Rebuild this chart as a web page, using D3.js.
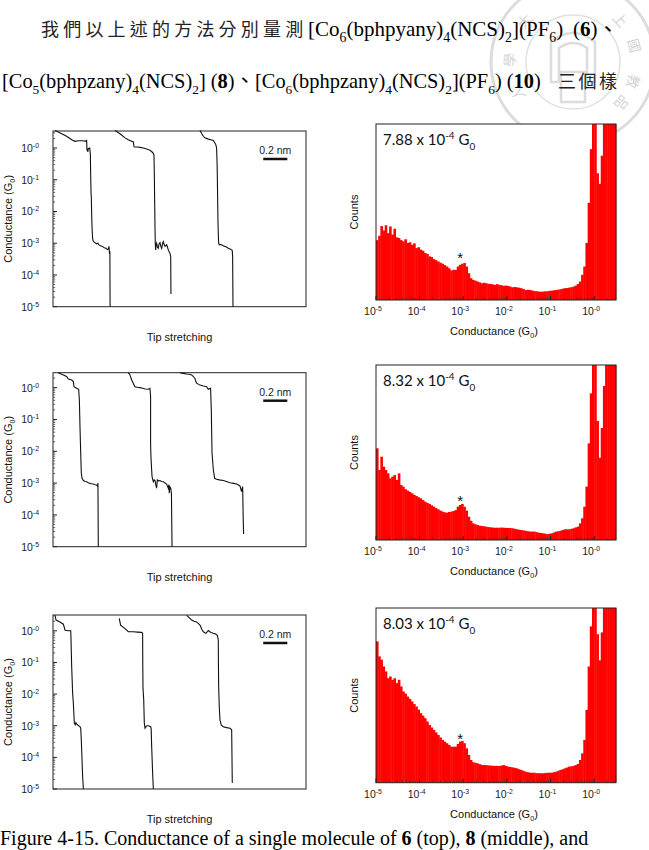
<!DOCTYPE html>
<html><head><meta charset="utf-8">
<script src="https://cdn.jsdelivr.net/npm/d3@7/dist/d3.min.js"></script>
<style>body{margin:0;background:#fff}svg{display:block}</style>
</head><body>
<svg id="c" width="649" height="850"></svg>
<script>
// ---------------- DATA ----------------
const traceTickExponents = [0, -1, -2, -3, -4, -5];
const histTickExponents = [-5, -4, -3, -2, -1, 0];
const traceXDomain = [0, 2.1];           // tip stretching, nm
const scaleBarNm = [1.745, 1.945];        // 0.2 nm
const peakValues = ["7.88", "8.32", "8.03"];
const peakExponent = "-4";
const histBinStart = -5.0, histBinWidth = 0.05; // log10(G/G0)

const histCounts6 = [
 340,365,420,395,425,380,418,372,405,356,
 352,340,333,345,324,328,314,322,295,300,
 286,280,267,262,248,244,232,226,219,212,
 206,198,190,180,168,172,171,190,200,206,
 210,190,152,124,114,110,105,100,95,98,
 95,92,91,88,86,90,86,84,80,82,
 80,76,72,74,72,70,67,62,57,58,
 57,54,51,50,48,47,48,49,50,52,
 53,55,57,59,61,64,67,68,70,73,
 76,82,91,105,143,190,324,552,857,1200,
 1200,720,660,820,1200,1200,1200,1200,1200,1200];
const histCounts8 = [
 524,400,476,419,400,381,352,362,371,343,
 381,314,305,290,282,275,267,258,251,244,
 238,228,219,212,206,198,190,182,175,168,
 162,158,156,160,162,166,171,190,200,206,
 190,168,133,110,95,90,86,82,80,78,
 76,74,72,71,70,70,70,71,70,69,
 69,68,67,64,61,59,57,55,53,50,
 48,48,48,45,42,40,38,36,34,36,
 38,43,48,50,53,57,61,61,61,64,
 67,72,76,95,124,190,305,552,838,1200,
 1200,680,470,640,880,1200,1200,1200,1200,1200];
const histCounts10 = [
 809,723,704,665,637,598,608,589,598,570,
 589,551,522,510,493,480,465,450,436,418,
 398,384,369,350,331,316,302,288,273,259,
 245,235,226,216,206,206,206,222,235,239,
 226,197,159,130,117,114,111,106,101,101,
 101,99,98,97,96,96,96,98,101,96,
 92,90,88,85,82,77,73,68,63,60,
 57,57,57,55,54,54,54,55,57,57,
 57,60,63,68,73,77,82,87,92,94,
 96,101,107,130,168,245,417,665,895,1200,
 1200,850,700,860,1200,1200,1200,1200,1200,1200];
const peakMarkers = [[-3.07, 262], [-3.07, 245], [-3.07, 275]]; // [log10 G, counts]

// traces: [nm, log10(G/G0)]
const traces6 = [
 [[0.017,0.55],[0.072,0.45],[0.113,0.37],[0.155,0.26],[0.183,0.21],[0.21,0.23],[0.246,0.23],[0.274,0.21],[0.279,0.25],[0.282,-0.08],[0.285,-0.02],[0.289,-0.12],[0.293,-0.02],[0.305,0.0],[0.31,-0.2],[0.313,-0.9],[0.316,-1.45],[0.318,-1.52],[0.321,-2.1],[0.325,-2.6],[0.329,-2.85],[0.334,-2.93],[0.34,-2.96],[0.35,-2.99],[0.36,-3.02],[0.372,-3.0],[0.383,-3.06],[0.395,-3.08],[0.41,-3.1],[0.425,-3.14],[0.44,-3.16],[0.452,-3.2],[0.46,-3.18],[0.465,-3.1],[0.468,-3.28],[0.472,-3.25],[0.474,-5.0]],
 [[0.515,0.55],[0.556,0.45],[0.598,0.32],[0.625,0.26],[0.667,0.19],[0.672,0.05],[0.674,0.03],[0.70,0.03],[0.722,0.02],[0.75,0.0],[0.777,-0.03],[0.805,-0.07],[0.827,-0.14],[0.838,-0.21],[0.841,-0.8],[0.844,-1.74],[0.847,-2.6],[0.849,-3.0],[0.852,-3.21],[0.856,-3.05],[0.86,-3.0],[0.867,-3.12],[0.874,-3.16],[0.88,-3.02],[0.888,-2.98],[0.895,-3.1],[0.902,-3.16],[0.91,-3.0],[0.916,-2.95],[0.923,-3.05],[0.93,-3.1],[0.943,-3.05],[0.95,-3.12],[0.957,-3.21],[0.965,-3.28],[0.971,-3.32],[0.977,-3.42],[0.979,-4.6]],
 [[1.22,0.55],[1.235,0.45],[1.248,0.37],[1.261,0.32],[1.289,0.28],[1.31,0.26],[1.331,0.24],[1.344,0.16],[1.352,0.1],[1.358,0.0],[1.362,-0.5],[1.364,-0.9],[1.367,-1.7],[1.369,-2.26],[1.372,-2.7],[1.375,-3.0],[1.38,-3.05],[1.39,-3.04],[1.40,-3.05],[1.413,-3.08],[1.427,-3.1],[1.44,-3.12],[1.455,-3.16],[1.47,-3.18],[1.483,-3.21],[1.488,-3.23],[1.491,-3.42],[1.494,-5.0]]
];
const traces8 = [
 [[0.044,0.47],[0.086,0.40],[0.113,0.35],[0.127,0.27],[0.155,0.24],[0.169,0.19],[0.174,0.03],[0.196,-0.02],[0.213,-0.05],[0.219,-0.39],[0.224,-1.23],[0.23,-2.06],[0.235,-2.69],[0.241,-2.85],[0.252,-2.92],[0.265,-2.95],[0.279,-2.96],[0.293,-2.99],[0.307,-3.01],[0.32,-3.02],[0.335,-3.03],[0.35,-3.05],[0.362,-3.06],[0.371,-3.11],[0.373,-3.0],[0.376,-5.0]],
 [[0.625,0.47],[0.639,0.40],[0.653,0.24],[0.68,0.03],[0.70,0.01],[0.722,0.0],[0.745,-0.02],[0.764,-0.04],[0.791,-0.05],[0.805,-0.02],[0.81,-0.28],[0.81,-1.75],[0.813,-2.17],[0.822,-2.8],[0.833,-2.96],[0.84,-2.9],[0.847,-2.92],[0.853,-3.05],[0.86,-3.16],[0.866,-2.9],[0.875,-2.93],[0.888,-2.92],[0.9,-2.95],[0.916,-2.96],[0.93,-3.0],[0.943,-3.03],[0.957,-3.16],[0.962,-3.05],[0.965,-3.32],[0.97,-3.12],[0.977,-3.16],[0.983,-3.32],[0.988,-5.0]],
 [[1.054,0.47],[1.08,0.45],[1.109,0.43],[1.13,0.42],[1.151,0.40],[1.165,0.35],[1.178,0.29],[1.185,0.2],[1.192,0.14],[1.22,0.08],[1.248,0.05],[1.275,0.03],[1.289,-0.05],[1.30,-0.03],[1.308,-0.02],[1.314,-0.7],[1.32,-2.06],[1.331,-2.59],[1.342,-2.85],[1.358,-2.88],[1.38,-2.9],[1.413,-2.92],[1.44,-2.95],[1.469,-2.99],[1.50,-3.01],[1.524,-3.03],[1.552,-3.09],[1.565,-3.27],[1.574,-3.11],[1.579,-4.16],[1.582,-4.6]]
];
const traces10 = [
 [[0.017,0.49],[0.025,0.34],[0.058,0.28],[0.086,0.21],[0.10,0.02],[0.127,0.0],[0.147,0.0],[0.149,-0.19],[0.155,-1.13],[0.163,-1.97],[0.169,-2.29],[0.177,-2.92],[0.185,-2.97],[0.19,-2.9],[0.196,-2.94],[0.213,-3.0],[0.224,-3.03],[0.23,-3.08],[0.235,-3.45],[0.241,-4.08],[0.246,-4.6],[0.252,-5.0]],
 [[0.55,0.39],[0.561,0.18],[0.598,0.07],[0.625,-0.03],[0.667,-0.03],[0.70,-0.04],[0.736,-0.05],[0.744,-0.08],[0.745,-1.0],[0.747,-1.82],[0.753,-2.18],[0.758,-2.92],[0.764,-3.08],[0.772,-3.03],[0.78,-3.0],[0.791,-3.0],[0.811,-3.03],[0.815,-3.1],[0.819,-3.66],[0.827,-4.5],[0.833,-5.0]],
 [[1.109,0.49],[1.13,0.42],[1.151,0.34],[1.17,0.3],[1.192,0.28],[1.22,0.18],[1.235,0.05],[1.248,-0.03],[1.27,-0.08],[1.289,0.01],[1.31,-0.05],[1.331,-0.08],[1.35,-0.1],[1.364,-0.14],[1.372,-0.29],[1.373,-1.0],[1.375,-1.76],[1.38,-2.39],[1.386,-2.82],[1.397,-2.98],[1.413,-3.03],[1.441,-3.06],[1.469,-3.08],[1.483,-3.13],[1.485,-3.77],[1.488,-4.81]]
];

// ---------------- LAYOUT ----------------
const SANS = "'Liberation Sans', Arial, sans-serif";
const SERIF = "'Liberation Serif', 'Times New Roman', serif";
const CJK = "'Noto Sans CJK TC', 'Noto Sans CJK SC', sans-serif";
const traceX = [53, 306], histX = [376, 616];
const histLogDomain = [-5, 0.5];
const rows = [
 {tTop:131, tBot:306.7, tMax:0.536, hTop:124, hBot:300, traces:traces6, counts:histCounts6},
 {tTop:372.7, tBot:546.7, tMax:0.47, hTop:365, hBot:540, traces:traces8, counts:histCounts8},
 {tTop:615, tBot:789, tMax:0.50, hTop:608, hBot:782.7, traces:traces10, counts:histCounts10}
];

const svg = d3.select('#c');

function rich(t, parts, size){
  let off = 0;
  parts.forEach(([s, st]) => {
    const ts = t.append('tspan').text(s);
    const target = st === 'sub' ? size*0.3 : st === 'sup' ? -size*0.38 : 0;
    if (target !== off) { ts.attr('dy', target - off); off = target; }
    if (st === 'sub' || st === 'sup') ts.attr('font-size', size*0.66);
    if (st === 'b') ts.attr('font-weight', 'bold');
    if (st === 'cjk') ts.attr('font-family', CJK);
  });
  return t;
}

// ---------------- WATERMARK ----------------
const wm = svg.append('g').attr('opacity', 0.5);
const wc = [573, 62];
wm.append('circle').attr('cx', wc[0]).attr('cy', wc[1]).attr('r', 82).attr('fill','none').attr('stroke','#bbb').attr('stroke-width',3);
wm.append('circle').attr('cx', wc[0]).attr('cy', wc[1]).attr('r', 47).attr('fill','none').attr('stroke','#c4c4c4').attr('stroke-width',1.5);
[["學",182],["人",150],["品",40],["教",18],["國",-15],["上",-42],["大",-140]].forEach(([ch,a])=>{
  const r = 64, rad = a*Math.PI/180;
  wm.append('text').attr('x', wc[0]+r*Math.cos(rad)).attr('y', wc[1]+r*Math.sin(rad))
    .attr('text-anchor','middle').attr('dominant-baseline','central')
    .attr('transform', `rotate(${a+90},${wc[0]+r*Math.cos(rad)},${wc[1]+r*Math.sin(rad)})`)
    .attr('font-family', CJK).attr('font-size', 14).attr('fill','#aaa').text(ch);
});
wm.append('path').attr('d', `M${wc[0]-22},${wc[1]-20} q22,-18 44,0 v40 h-8 v-34 q-14,-10 -28,0 v34 h-8 z M${wc[0]-12},${wc[1]+10} h24 v30 h-24 z`)
  .attr('fill','none').attr('stroke','#bbb').attr('stroke-width',2.5);

// ---------------- TOP TEXT ----------------
svg.append('text').attr('x', 41).attr('y', 36).attr('font-family', CJK).attr('font-size', 18).attr('letter-spacing', 4.2).attr('fill','#222').text('我們以上述的方法分別量測');
rich(svg.append('text').attr('x', 308).attr('y', 36).attr('font-family', SERIF).attr('font-size', 21),
 [['[Co',''],['6','sub'],['(bphpyany)',''],['4','sub'],['(NCS)',''],['2','sub'],['](PF',''],['6','sub'],[')','']], 21);
rich(svg.append('text').attr('x', 573).attr('y', 36).attr('font-family', SERIF).attr('font-size', 21),
 [['(',''],['6','b'],[')',''],['、','cjk']], 21);
rich(svg.append('text').attr('x', 2).attr('y', 88).attr('font-family', SERIF).attr('font-size', 20.4),
 [['[Co',''],['5','sub'],['(bphpzany)',''],['4','sub'],['(NCS)',''],['2','sub'],['] (',''],['8','b'],[')',''],['、','cjk'],
  ['[Co',''],['6','sub'],['(bphpzany)',''],['4','sub'],['(NCS)',''],['2','sub'],['](PF',''],['6','sub'],[') (',''],['10','b'],[')','']], 20.4);
svg.append('text').attr('x', 558).attr('y', 88).attr('font-family', CJK).attr('font-size', 18).attr('letter-spacing', 2.5).attr('fill','#222').text('三個樣');

// ---------------- PANELS ----------------
function supLabel(g, x, y, anchor, exp, size){
  const t = g.append('text').attr('x', x).attr('y', y).attr('text-anchor', anchor)
    .attr('font-family', SANS).attr('font-size', size).attr('fill', '#222');
  rich(t, [['10',''],[exp, 'sup']], size);
  return t;
}

rows.forEach((row, i) => {
  // ---- trace panel ----
  const g = svg.append('g');
  const x = d3.scaleLinear().domain(traceXDomain).range(traceX);
  const y = d3.scaleLog().domain([1e-5, Math.pow(10, row.tMax)]).range([row.tBot, row.tTop]);
  g.append('rect').attr('x', traceX[0]).attr('y', row.tTop).attr('width', traceX[1]-traceX[0]).attr('height', row.tBot-row.tTop)
    .attr('fill', '#fff').attr('stroke', '#222').attr('stroke-width', 1);
  traceTickExponents.forEach(e => {
    const v = Math.pow(10, e);
    g.append('line').attr('x1', traceX[0]).attr('x2', traceX[0]+4).attr('y1', y(v)).attr('y2', y(v)).attr('stroke','#222');
    for (let m = 2; m <= 9; m++) {
      const vm = v*m; if (vm > y.domain()[1]) break;
      g.append('line').attr('x1', traceX[0]).attr('x2', traceX[0]+2.2).attr('y1', y(vm)).attr('y2', y(vm)).attr('stroke','#444').attr('stroke-width',0.8);
    }
    supLabel(g, traceX[0]-14, y(v)+4, 'end', e === 0 ? '-0' : String(e), 10.5);
  });
  const line = d3.line().x(d => x(d[0])).y(d => y(Math.pow(10, d[1])));
  row.traces.forEach(tr => {
    g.append('path').attr('d', line(tr)).attr('fill','none').attr('stroke','#111').attr('stroke-width',1.1);
  });
  // scale bar
  g.append('line').attr('x1', x(scaleBarNm[0])).attr('x2', x(scaleBarNm[1])).attr('y1', row.tTop+28).attr('y2', row.tTop+28)
    .attr('stroke','#111').attr('stroke-width',2.5);
  g.append('text').attr('x', (x(scaleBarNm[0])+x(scaleBarNm[1]))/2).attr('y', row.tTop+23).attr('text-anchor','middle')
    .attr('font-family', SANS).attr('font-size', 10.5).attr('fill','#222').text('0.2 nm');
  g.append('text').attr('x', (traceX[0]+traceX[1])/2).attr('y', row.tBot+34).attr('text-anchor','middle')
    .attr('font-family', SANS).attr('font-size', 11).attr('fill','#111').text('Tip stretching');
  const yl = g.append('text').attr('transform', `translate(12,${(row.tTop+row.tBot)/2}) rotate(-90)`).attr('text-anchor','middle')
    .attr('font-family', SANS).attr('font-size', 11).attr('fill','#111');
  rich(yl, [['Conductance (G',''],['0','sub'],[')','']], 11);

  // ---- histogram panel ----
  const h = svg.append('g');
  const hx = d3.scaleLog().domain([Math.pow(10, histLogDomain[0]), Math.pow(10, histLogDomain[1])]).range(histX);
  const hy = d3.scaleLinear().domain([0, 1000]).range([row.hBot, row.hTop]);
  h.append('rect').attr('x', histX[0]).attr('y', row.hTop).attr('width', histX[1]-histX[0]).attr('height', row.hBot-row.hTop).attr('fill','#fff');
  h.selectAll('rect.bar').data(row.counts).enter().append('rect').attr('class','bar')
    .attr('x', (d, k) => hx(Math.pow(10, histBinStart + k*histBinWidth)))
    .attr('width', (d, k) => Math.max(0, Math.min(histX[1], hx(Math.pow(10, histBinStart + (k+1)*histBinWidth))) - hx(Math.pow(10, histBinStart + k*histBinWidth))) + 0.4)
    .attr('y', d => hy(Math.min(d, 1000)))
    .attr('height', d => row.hBot - hy(Math.min(d, 1000)))
    .attr('fill', '#ff0000');
  h.append('rect').attr('x', histX[0]).attr('y', row.hTop).attr('width', histX[1]-histX[0]).attr('height', row.hBot-row.hTop)
    .attr('fill','none').attr('stroke','#222').attr('stroke-width',1);
  histTickExponents.forEach(e => {
    const v = Math.pow(10, e);
    h.append('line').attr('x1', hx(v)).attr('x2', hx(v)).attr('y1', row.hBot).attr('y2', row.hBot-4).attr('stroke','#222');
    for (let m = 2; m <= 9; m++) {
      const vm = v*m; if (vm > hx.domain()[1]) break;
      h.append('line').attr('x1', hx(vm)).attr('x2', hx(vm)).attr('y1', row.hBot).attr('y2', row.hBot-2.2).attr('stroke','#333').attr('stroke-width',0.8);
    }
    supLabel(h, hx(v)-3, row.hBot+15, 'middle', e === 0 ? '-0' : String(e), 10.5);
  });
  const xl = h.append('text').attr('x', (histX[0]+histX[1])/2 - 2).attr('y', row.hBot+35).attr('text-anchor','middle')
    .attr('font-family', SANS).attr('font-size', 11).attr('fill','#111');
  rich(xl, [['Conductance (G',''],['0','sub'],[')','']], 11);
  h.append('text').attr('transform', `translate(358,${(row.hTop+row.hBot)/2}) rotate(-90)`).attr('text-anchor','middle')
    .attr('font-family', SANS).attr('font-size', 11).attr('fill','#111').text('Counts');
  const pk = h.append('text').attr('x', 383).attr('y', row.hTop+21).attr('font-family', "Lato, 'Open Sans', sans-serif").attr('font-size', 15).attr('fill','#111');
  rich(pk, [[peakValues[i] + ' x 10',''],[peakExponent,'sup'],[' G',''],['0','sub']], 15);
  const pm = peakMarkers[i];
  h.append('text').attr('x', hx(Math.pow(10, pm[0]))).attr('y', hy(pm[1]) + 9).attr('text-anchor','middle')
    .attr('font-family', SANS).attr('font-size', 15).attr('fill','#111').text('*');
});

// ---------------- CAPTION ----------------
rich(svg.append('text').attr('x', 0).attr('y', 845).attr('font-family', SERIF).attr('font-size', 20),
 [['Figure 4-15. Conductance of a single molecule of ',''],['6','b'],[' (top), ',''],['8','b'],[' (middle), and','']], 20);
</script>
</body></html>
